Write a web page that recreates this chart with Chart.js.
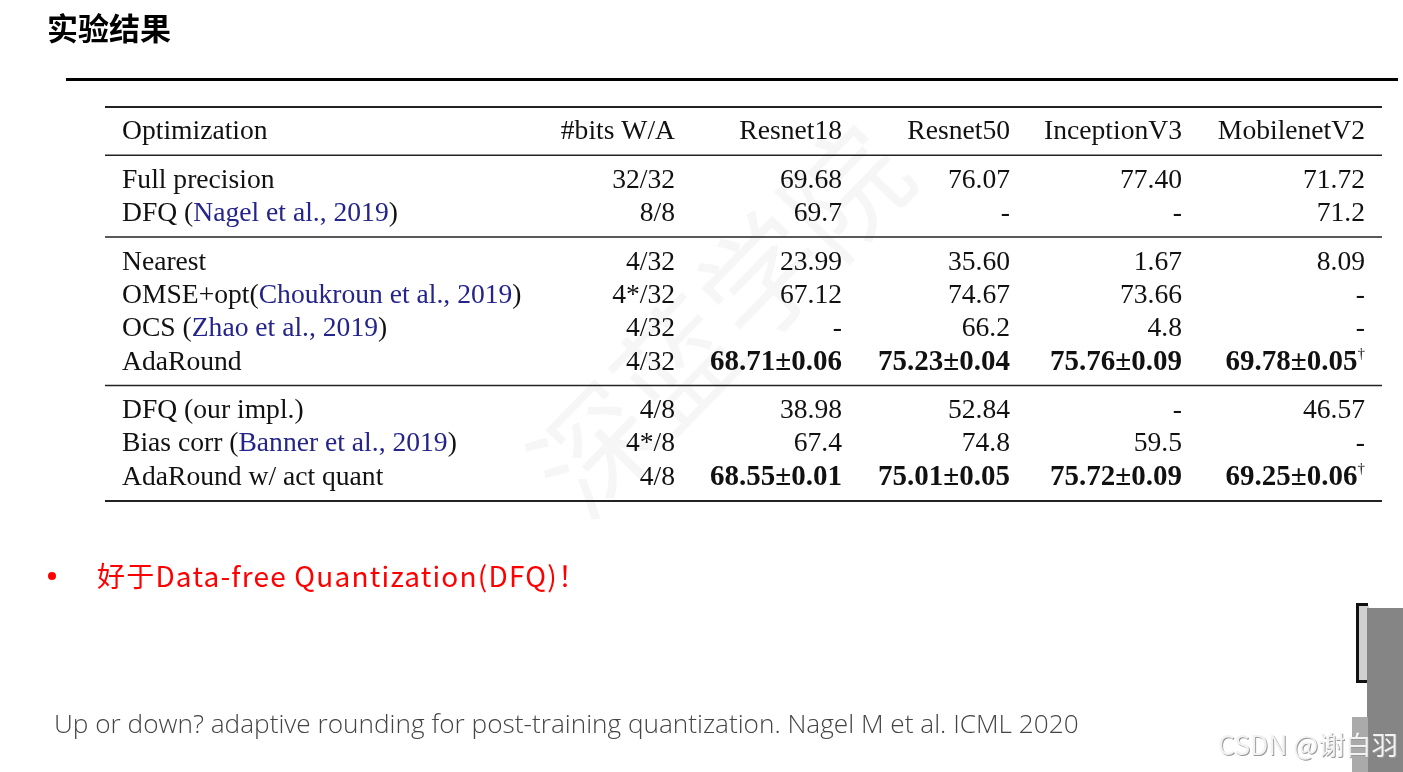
<!DOCTYPE html>
<html>
<head>
<meta charset="utf-8">
<script src="https://cdn.jsdelivr.net/npm/chart.js@4"></script>
<style>
  html, body { margin: 0; padding: 0; background: #fff; }
  #wrap { position: relative; width: 1403px; height: 772px; }
</style>
</head>
<body>
<div id="wrap"><canvas id="table"></canvas></div>
<script>
const headers = ['Optimization', '#bits W/A', 'Resnet18', 'Resnet50', 'InceptionV3', 'MobilenetV2'];

const methodNames = ['Full precision', 'DFQ (', 'Nearest', 'OMSE+opt(', 'OCS (', 'AdaRound',
   'DFQ (our impl.)', 'Bias corr (', 'AdaRound w/ act quant'];
const methodCites = ['', 'Nagel et al., 2019', '', 'Choukroun et al., 2019', 'Zhao et al., 2019', '',
   '', 'Banner et al., 2019', ''];
const bits = ['32/32', '8/8', '4/32', '4*/32', '4/32', '4/32', '4/8', '4*/8', '4/8'];
const resnet18 = ['69.68', '69.7', '23.99', '67.12', '-', '68.71±0.06', '38.98', '67.4', '68.55±0.01'];
const resnet50 = ['76.07', '-', '35.60', '74.67', '66.2', '75.23±0.04', '52.84', '74.8', '75.01±0.05'];
const inceptionV3 = ['77.40', '-', '1.67', '73.66', '4.8', '75.76±0.09', '-', '59.5', '75.72±0.09'];
const mobilenetV2 = ['71.72', '71.2', '8.09', '-', '-', '69.78±0.05†', '46.57', '-', '69.25±0.06†'];
const groupSizes = [2, 4, 3];
const boldRows = [5, 8];

// row slots: one unit per row, a bit extra between groups
const GAP = 0.45;
const rowSlot = [];
const ruleSlot = [];
let s = 1 + GAP;
groupSizes.forEach(function (n) {
   ruleSlot.push(s - 0.5 - GAP / 2);
   for (let k = 0; k < n; k++) { rowSlot.push(s); s++; }
   s += GAP;
});
const bottomSlot = s - 1 - GAP + 0.5 + GAP / 2 + 0.01;
const topSlot = -(0.5 + GAP / 2);

// x anchors (table px from left rule edge): first column left aligned, the rest right aligned
const colAnchor = [17, 570, 737, 905, 1077, 1260];
const columns = [bits, resnet18, resnet50, inceptionV3, mobilenetV2];

const SERIF = '"Liberation Serif", "Times New Roman", serif';
const FS = '27.6px ';

const tablePlugin = {
   id: 'tableText',
   beforeDraw(chart) {
      const ctx = chart.ctx;
      ctx.save();
      // background watermark
      ctx.translate(720, 320);
      ctx.rotate(-0.8);
      ctx.fillStyle = 'rgba(0,0,0,0.035)';
      ctx.font = '120px "Noto Sans CJK SC"';
      ctx.textAlign = 'center';
      ctx.textBaseline = 'middle';
      ctx.fillText('深蓝学院', 0, 0);
      ctx.restore();
   },
   afterDraw(chart) {
      const ctx = chart.ctx;
      const xs = chart.scales.x, ys = chart.scales.y;
      const area = chart.chartArea;
      ctx.save();

      // rules
      ctx.strokeStyle = '#222';
      const line = function (v, w) {
         const y = ys.getPixelForValue(v);
         ctx.lineWidth = w;
         ctx.beginPath();
         ctx.moveTo(area.left, y);
         ctx.lineTo(area.right, y);
         ctx.stroke();
      };
      line(topSlot, 2);
      ruleSlot.forEach(function (v) { line(v, 1.5); });
      line(bottomSlot, 2);

      ctx.textBaseline = 'middle';
      ctx.fillStyle = '#111';
      ctx.font = FS + SERIF;

      // header
      const hy = ys.getPixelForValue(0) + 1;
      headers.forEach(function (h, c) {
         ctx.textAlign = c === 0 ? 'left' : 'right';
         ctx.fillText(h, xs.getPixelForValue(colAnchor[c]), hy);
      });

      // method names
      methodNames.forEach(function (name, r) {
         const y = ys.getPixelForValue(rowSlot[r]) + 1;
         let x = xs.getPixelForValue(colAnchor[0]);
         ctx.textAlign = 'left';
         ctx.fillStyle = '#111';
         ctx.fillText(name, x, y);
         if (methodCites[r]) {
            x += ctx.measureText(name).width;
            ctx.fillStyle = '#24248a';
            ctx.fillText(methodCites[r], x, y);
            x += ctx.measureText(methodCites[r]).width;
            ctx.fillStyle = '#111';
            ctx.fillText(')', x, y);
         }
      });

      // value cells, placed from the dataset points
      chart.data.datasets.forEach(function (ds, i) {
         const meta = chart.getDatasetMeta(i);
         meta.data.forEach(function (pt, r) {
            let txt = columns[i][r];
            const bold = i > 0 && boldRows.indexOf(r) >= 0;
            ctx.textAlign = 'right';
            ctx.fillStyle = '#111';
            let x = pt.x;
            if (txt.endsWith('†')) {
               txt = txt.slice(0, -1);
               ctx.font = '15px ' + SERIF;
               ctx.fillText('†', x, pt.y - 7);
               x -= ctx.measureText('†').width;
            }
            ctx.font = (bold ? 'bold 29px ' : FS) + SERIF;
            ctx.fillText(txt, x, pt.y + 1);
         });
      });
      ctx.restore();
   }
};

new Chart(document.getElementById('table'), {
   type: 'scatter',
   data: {
      datasets: columns.map(function (col, c) {
         return {
            label: headers[c + 1],
            data: col.map(function (_, r) { return { x: colAnchor[c + 1], y: rowSlot[r] }; }),
            pointRadius: 0,
            pointHoverRadius: 0
         };
      })
   },
   options: {
      responsive: true,
      maintainAspectRatio: false,
      animation: false,
      events: [],
      layout: { padding: { left: 105, right: 21, top: 107, bottom: 271 } },
      plugins: { legend: { display: false }, tooltip: { enabled: false } },
      scales: {
         x: { type: 'linear', display: false, min: 0, max: 1277 },
         y: { type: 'linear', display: false, reverse: true, min: topSlot, max: bottomSlot }
      }
   },
   plugins: [tablePlugin, {
      id: 'slideText',
      afterDraw(chart) {
         const ctx = chart.ctx;
         ctx.save();
         ctx.textBaseline = 'middle';
         ctx.textAlign = 'left';
         // title and top rule
         ctx.fillStyle = '#000';
         ctx.font = 'bold 31px "Noto Sans CJK SC"';
         ctx.fillText('实验结果', 47, 28);
         ctx.fillRect(66, 78, 1332, 3);
         // red bullet line
         ctx.fillStyle = '#ff0000';
         ctx.beginPath();
         ctx.arc(52, 576, 4, 0, Math.PI * 2);
         ctx.fill();
         ctx.font = '28px "Noto Sans CJK SC"';
         ctx.letterSpacing = '1.2px';
         ctx.fillText('好于Data-free Quantization(DFQ)！', 97, 576);
         ctx.letterSpacing = '0px';
         // reference
         ctx.fillStyle = '#444';
         ctx.font = '300 26.2px "Open Sans"';
         ctx.fillText('Up or down? adaptive rounding for post-training quantization. Nagel M et al. ICML 2020', 54, 726);
         // blocks at the right edge
         ctx.fillStyle = '#111';
         ctx.fillRect(1356, 603, 12, 80);
         ctx.fillStyle = '#d0d0d0';
         ctx.fillRect(1359, 606, 10, 74);
         ctx.fillStyle = '#858585';
         ctx.fillRect(1367, 608, 36, 164);
         ctx.fillStyle = '#aaa';
         ctx.fillRect(1352, 717, 16, 55);
         // CSDN watermark
         ctx.font = '26.5px "Noto Sans CJK SC"';
         ctx.fillStyle = '#999';
         ctx.fillText('CSDN @谢白羽', 1219, 746);
         ctx.fillStyle = '#f2f2f2';
         ctx.fillText('CSDN @谢白羽', 1218, 745);
         ctx.restore();
      }
   }]
});
</script>
</body>
</html>
